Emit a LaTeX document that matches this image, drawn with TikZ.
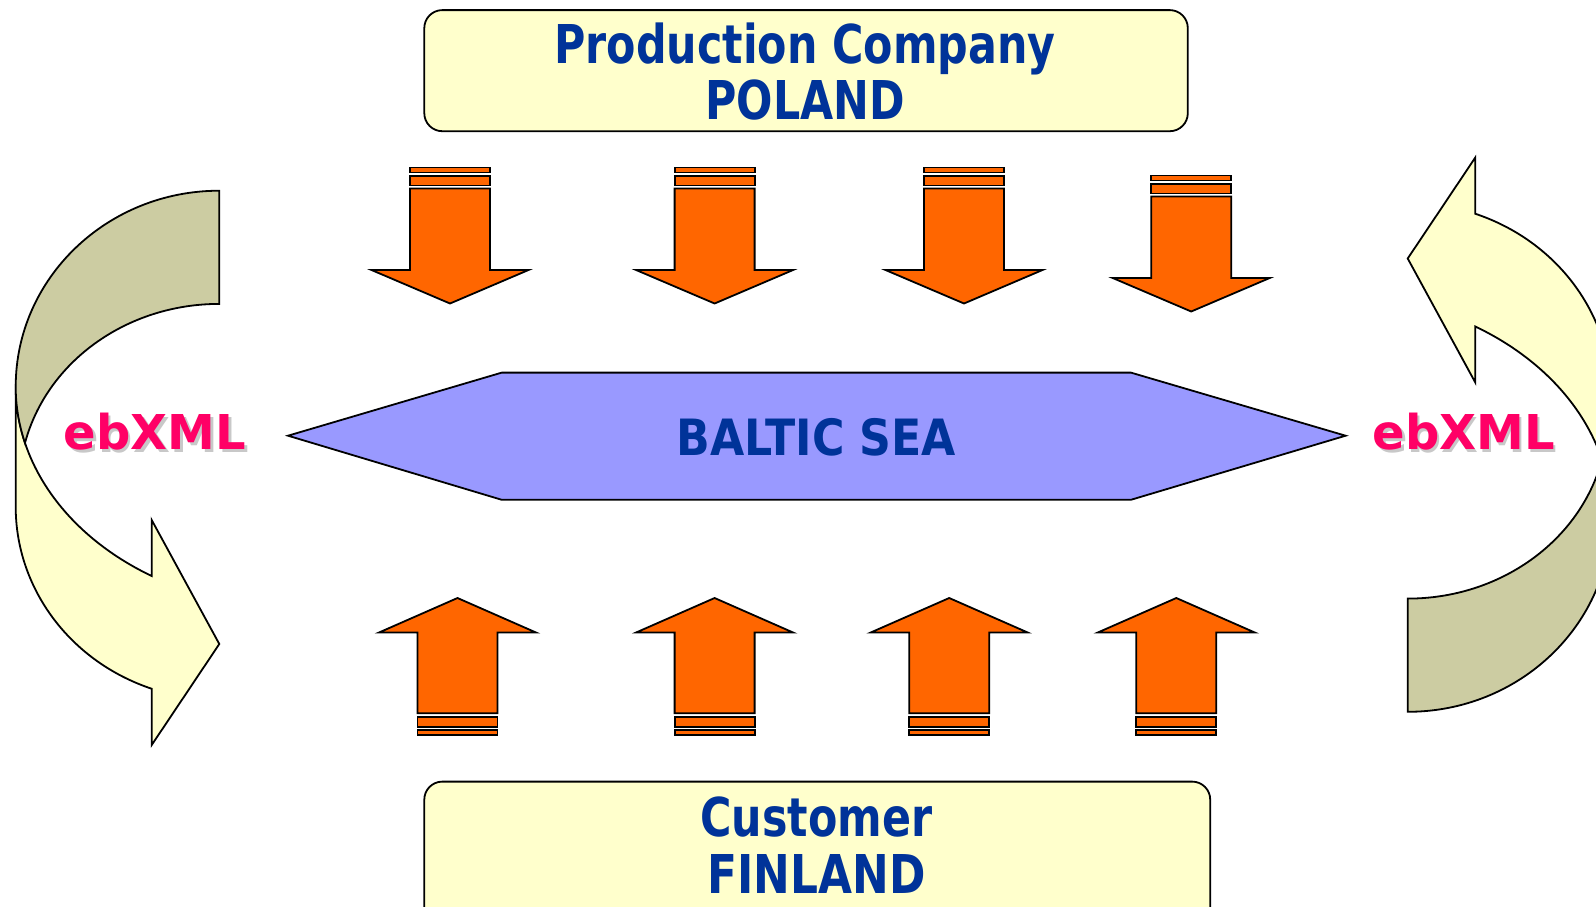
\documentclass[tikz,border=0pt]{standalone}
\usepackage{fontspec}
\setmainfont{DejaVu Sans}
\usepackage{graphicx}
\definecolor{txtblue}{HTML}{003399}
\definecolor{boxyellow}{HTML}{FFFFCC}
\definecolor{arrorange}{HTML}{FF6600}
\definecolor{seablue}{HTML}{9999FF}
\definecolor{ribbonback}{HTML}{CCCCA2}
\definecolor{ebpink}{HTML}{FF0066}
\definecolor{ebshadow}{HTML}{C8C8C8}
\begin{document}
\begin{tikzpicture}[x=1pt,y=-1pt,line join=miter,
  outline/.style={draw=black,line width=1.8pt},
  boxshape/.style={outline,fill=boxyellow,rounded corners=18pt,inner sep=0pt,anchor=north west},
  titletext/.style={text=txtblue,font=\bfseries\fontsize{53.5}{60}\selectfont,inner sep=0pt,anchor=base},
  seatext/.style={text=txtblue,font=\bfseries\fontsize{50}{56}\selectfont,inner sep=0pt,anchor=base},
  ebtext/.style={font=\bfseries\fontsize{48}{54}\selectfont,inner sep=0pt,anchor=base},
  blockarrow/.style={outline,fill=arrorange}]
\clip (0,0) rectangle (1596,906);
\fill[white] (0,0) rectangle (1596,906);

% boxes
\node[boxshape,minimum width=763.5pt,minimum height=121.1pt] (topbox) at (423.4,9.2) {};
\node[boxshape,minimum width=785.9pt,minimum height=150pt] (botbox) at (423.4,780.7) {};
\node[titletext] (prod) at (805,63.1) {\scalebox{0.8}[1]{Production Company}};
\node[titletext] (poland) at (805,119) {\scalebox{0.8}[1]{POLAND}};
\node[titletext] (cust) at (816.4,836.7) {\scalebox{0.8}[1]{Customer}};
\node[titletext] (finland) at (816.4,893.7) {\scalebox{0.82}[1]{FINLAND}};

% hexagon
\draw[outline,fill=seablue] (288,435.7) -- (501.8,372.6) -- (1130.9,372.6) -- (1345.6,435.7) -- (1130.9,499.8) -- (501.8,499.8) -- cycle;
\node[seatext] (sea) at (816.4,455) {\scalebox{0.885}[1]{BALTIC SEA}};

% down arrows
\foreach \cx/\dy in {450/0,714.6/0,964/0,1191.2/8}{
  \draw[blockarrow] ({\cx-40},{167.5+\dy}) rectangle ({\cx+40},{172.5+\dy});
  \draw[blockarrow] ({\cx-40},{176+\dy}) rectangle ({\cx+40},{185.5+\dy});
  \draw[blockarrow] ({\cx-40},{188.5+\dy}) -- ({\cx+40},{188.5+\dy}) -- ({\cx+40},{270+\dy}) -- ({\cx+78.5},{270+\dy}) -- ({\cx},{303.5+\dy}) -- ({\cx-78.5},{270+\dy}) -- ({\cx-40},{270+\dy}) -- cycle;
}
% up arrows
\foreach \cx in {457.5,714.6,949.2,1176.3}{
  \draw[blockarrow] ({\cx-40},713.3) -- ({\cx+40},713.3) -- ({\cx+40},632.5) -- ({\cx+78.5},632.5) -- ({\cx},598) -- ({\cx-78.5},632.5) -- ({\cx-40},632.5) -- cycle;
  \draw[blockarrow] ({\cx-40},717.3) rectangle ({\cx+40},726.7);
  \draw[blockarrow] ({\cx-40},730) rectangle ({\cx+40},735);
}

% left ribbon arrow
\path[outline,fill=boxyellow] (15.7,386.7) -- (15.7,506.7)
  arc[start angle=180,end angle=109.4,x radius=203.6,y radius=193]
  -- (151.7,745) -- (219.3,644) -- (151.7,520) -- (151.7,576)
  arc[start angle=121.4,end angle=180,x radius=283.8,y radius=221.7] -- cycle;
\path[outline,fill=ribbonback] (219.3,190.7)
  arc[start angle=270,end angle=180,x radius=203.6,y radius=196]
  arc[start angle=180,end angle=165.3,x radius=283.8,y radius=221.7]
  arc[start angle=193.8,end angle=270,x radius=200,y radius=182.6] -- cycle;

% right ribbon arrow (left one turned half a turn)
\begin{scope}[rotate around={180:(813.5,451.25)}]
\path[outline,fill=boxyellow] (15.7,386.7) -- (15.7,506.7)
  arc[start angle=180,end angle=109.4,x radius=203.6,y radius=193]
  -- (151.7,745) -- (219.3,644) -- (151.7,520) -- (151.7,576)
  arc[start angle=121.4,end angle=180,x radius=283.8,y radius=221.7] -- cycle;
\path[outline,fill=ribbonback] (219.3,190.7)
  arc[start angle=270,end angle=180,x radius=203.6,y radius=196]
  arc[start angle=180,end angle=165.3,x radius=283.8,y radius=221.7]
  arc[start angle=193.8,end angle=270,x radius=200,y radius=182.6] -- cycle;
\end{scope}

% ebXML labels
\node[ebtext,text=ebshadow] (ebLs) at (157.5,452) {ebXML};
\node[ebtext,text=ebpink] (ebL) at (155,449.5) {ebXML};
\node[ebtext,text=ebshadow] (ebRs) at (1466.2,452) {ebXML};
\node[ebtext,text=ebpink] (ebR) at (1463.7,449.5) {ebXML};
\end{tikzpicture}
\end{document}
